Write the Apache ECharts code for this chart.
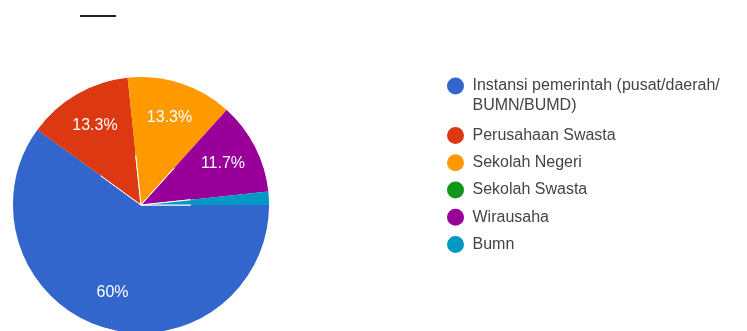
<!DOCTYPE html>
<html>
<head>
<meta charset="utf-8">
<script src="https://cdn.jsdelivr.net/npm/echarts@6/dist/echarts.min.js"></script>
<style>
  html, body { margin: 0; padding: 0; background: #ffffff; }
  #chart { width: 747px; height: 331px; }
</style>
</head>
<body>
<div id="chart"></div>
<script>
// Categories and counts of respondents per workplace
const categories = [
  'Instansi pemerintah (pusat/daerah/\nBUMN/BUMD)',
  'Perusahaan Swasta',
  'Sekolah Negeri',
  'Sekolah Swasta',
  'Wirausaha',
  'Bumn'
];
const counts = [36, 8, 8, 0, 7, 1];
const colors = ['#3366cc', '#dc3912', '#ff9900', '#109618', '#990099', '#0099c6'];

const total = counts.reduce((a, b) => a + b, 0);
const pieData = categories.map((name, i) => ({
  name: name,
  value: counts[i],
  itemStyle: { color: colors[i] }
}));

const font = 'Arial, "Liberation Sans", Helvetica, sans-serif';
const center = [141, 205];
const outerR = 128;

function pctText(v) {
  const p = Math.round(v / total * 1000) / 10;
  return (p % 1 === 0 ? p.toFixed(0) : p.toFixed(1)) + '%';
}

const chart = echarts.init(document.getElementById('chart'), null, { renderer: 'canvas' });

const legendCommon = {
  orient: 'vertical',
  left: 445,
  padding: 0,
  itemWidth: 24,
  itemHeight: 19,
  icon: 'circle',
  selectedMode: false,
  textStyle: { fontFamily: font, fontSize: 16, color: '#444444', lineHeight: 20 }
};

chart.setOption({
  animation: false,
  backgroundColor: '#ffffff',
  color: colors,
  graphic: [{
    type: 'line',
    shape: { x1: 80, y1: 16, x2: 116, y2: 16 },
    style: { stroke: '#222222', lineWidth: 2 },
    silent: true
  }],
  legend: [
    Object.assign({}, legendCommon, {
      // first entry wraps onto two lines; a blank leading line keeps the dot beside the first line
      data: [categories[0]],
      top: 56,
      formatter: name => ' \n' + name
    }),
    Object.assign({}, legendCommon, {
      data: categories.slice(1),
      top: 125,
      itemGap: 6.25
    })
  ],
  series: [
    {
      // slices
      type: 'pie',
      center: center,
      radius: [0, outerR],
      startAngle: 0,
      clockwise: true,
      data: pieData,
      label: { show: false },
      labelLine: { show: false },
      itemStyle: { borderColor: '#ffffff', borderWidth: 1 },
      emphasis: { disabled: true },
      silent: true
    },
    {
      // percentage labels placed toward the rim
      type: 'pie',
      center: center,
      radius: [50, outerR],
      startAngle: 0,
      clockwise: true,
      data: pieData,
      minShowLabelAngle: 20,
      itemStyle: { color: 'rgba(0,0,0,0)', borderWidth: 0 },
      label: {
        show: true,
        position: 'inside',
        color: '#ffffff',
        fontFamily: font,
        fontSize: 16,
        formatter: p => pctText(p.value)
      },
      labelLine: { show: false },
      emphasis: { disabled: true },
      silent: true
    }
  ]
});
</script>
</body>
</html>
